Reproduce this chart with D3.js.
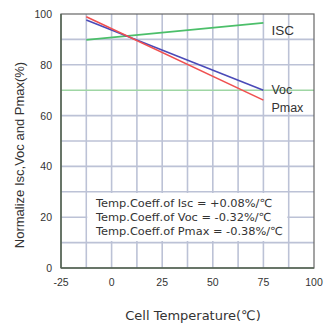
<!DOCTYPE html>
<html>
<head>
<meta charset="utf-8">
<script src="https://cdn.jsdelivr.net/npm/d3@7"></script>
<style>
  body { margin: 0; background: #fff; }
  text { font-family: "Liberation Sans", Arial, sans-serif; fill: #333; }
</style>
</head>
<body>
<div id="chart"></div>
<script>
// values
const temps = [-12.5, 75];
const isc = [89.8, 96.5];
const voc = [97.6, 70.0];
const pmax = [98.9, 66.1];
const xTicks = [-25, 0, 25, 50, 75, 100];
const yTicks = [0, 20, 40, 60, 80, 100];
const notes = [
  "Temp.Coeff.of Isc = +0.08%/℃",
  "Temp.Coeff.of Voc = -0.32%/℃",
  "Temp.Coeff.of Pmax = -0.38%/℃"
];

const width = 324, height = 327;
const margin = { top: 14, right: 10, bottom: 59, left: 61 };

const svg = d3.select("#chart").append("svg")
  .attr("width", width)
  .attr("height", height);

const x = d3.scaleLinear().domain([-25, 100]).range([margin.left, width - margin.right]);
const y = d3.scaleLinear().domain([0, 100]).range([height - margin.bottom, margin.top]);

// grid
svg.append("g").selectAll("line")
  .data(d3.range(-12.5, 100, 12.5))
  .enter().append("line")
  .attr("x1", d => x(d)).attr("x2", d => x(d))
  .attr("y1", y(0)).attr("y2", y(100))
  .attr("stroke", "#bcc2d6").attr("stroke-width", 1.6);

svg.append("g").selectAll("line")
  .data(d3.range(10, 100, 10))
  .enter().append("line")
  .attr("x1", x(-25)).attr("x2", x(100))
  .attr("y1", d => y(d)).attr("y2", d => y(d))
  .attr("stroke", d => d === 70 ? "#9fd6a4" : "#bcc2d6")
  .attr("stroke-width", 1.6);

// white box behind the notes
svg.append("rect")
  .attr("x", x(-12.5) + 1).attr("y", 193)
  .attr("width", 200).attr("height", 48)
  .attr("fill", "#fff");

// frame
svg.append("rect")
  .attr("x", x(-25)).attr("y", y(100))
  .attr("width", x(100) - x(-25)).attr("height", y(0) - y(100))
  .attr("fill", "none").attr("stroke", "#666").attr("stroke-width", 1.2);
svg.append("line")
  .attr("x1", x(-25)).attr("x2", x(-25)).attr("y1", y(0)).attr("y2", y(100))
  .attr("stroke", "#556655").attr("stroke-width", 1.5);
svg.append("line")
  .attr("x1", x(-25)).attr("x2", x(100)).attr("y1", y(0)).attr("y2", y(0))
  .attr("stroke", "#556655").attr("stroke-width", 1.5);

// axes labels
svg.append("g").selectAll("text")
  .data(xTicks)
  .enter().append("text")
  .attr("x", d => x(d)).attr("y", y(0) + 18)
  .attr("text-anchor", "middle")
  .attr("font-size", 10.5)
  .text(d => d);

svg.append("g").selectAll("text")
  .data(yTicks)
  .enter().append("text")
  .attr("x", x(-25) - 9).attr("y", d => y(d) + 4)
  .attr("text-anchor", "end")
  .attr("font-size", 10.5)
  .text(d => d);

svg.append("text")
  .attr("x", 193).attr("y", 320)
  .attr("text-anchor", "middle")
  .style("font-family", "'DejaVu Sans', sans-serif")
  .attr("font-size", 13)
  .text("Cell Temperature(℃)");

svg.append("text")
  .attr("transform", "translate(24,155) rotate(-90)")
  .attr("text-anchor", "middle")
  .attr("font-size", 13)
  .text("Normalize Isc,Voc and Pmax(%)");

// series
const series = [
  { name: "ISC", vals: isc, color: "#4cbf6a", dy: 12, size: 13.5 },
  { name: "Voc", vals: voc, color: "#4a4ab8", dy: 4, size: 12.5 },
  { name: "Pmax", vals: pmax, color: "#f05050", dy: 12, size: 12.5 }
];
const line = d3.line().x(d => x(d[0])).y(d => y(d[1]));

series.forEach(s => {
  svg.append("path")
    .datum(temps.map((t, i) => [t, s.vals[i]]))
    .attr("d", line)
    .attr("fill", "none")
    .attr("stroke", s.color)
    .attr("stroke-width", 1.6);
  svg.append("text")
    .attr("x", x(75) + 8)
    .attr("y", y(s.vals[1]) + s.dy)
    .attr("font-size", s.size)
    .text(s.name);
});

// coefficient notes, sized so the longest line spans ~187px like the original
const noteText = svg.append("g").selectAll("text")
  .data(notes)
  .enter().append("text")
  .attr("x", 96).attr("y", (d, i) => 207 + i * 14)
  .style("font-family", "'DejaVu Sans', sans-serif")
  .attr("font-size", 10)
  .text(d => d);
const longest = d3.max(noteText.nodes(), n => n.getComputedTextLength());
noteText.attr("font-size", 10 * 187 / longest);
</script>
</body>
</html>
